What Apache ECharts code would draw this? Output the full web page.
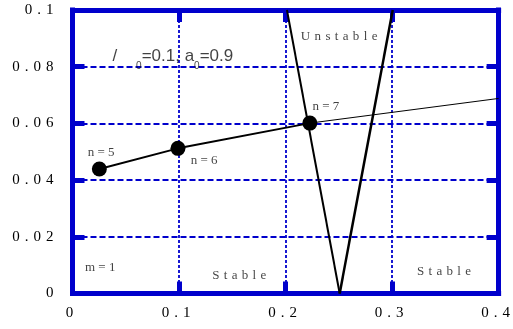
<!DOCTYPE html>
<html>
<head>
<meta charset="utf-8">
<script src="https://cdn.jsdelivr.net/npm/echarts@6/dist/echarts.min.js"></script>
<style>
  html, body { margin: 0; padding: 0; background: #fff; }
  #chart { width: 513px; height: 329px; }
</style>
</head>
<body>
<div id="chart"></div>
<script>
// Axis tick labels
const xTickLabels = ['0', '0.1', '0.2', '0.3', '0.4'];
const yTickLabels = ['0', '0.02', '0.04', '0.06', '0.08', '0.1'];

// Trajectory through n = 5, 6, 7
const pathX = [0.0252, 0.099, 0.2228];
const pathY = [0.0439, 0.0512, 0.0601];

// Continuation of the trajectory past n = 7
const tailX = [0.2228, 0.4];
const tailY = [0.0601, 0.0688];

// Stability boundaries (V shape)
const leftBoundX = [0.2013, 0.2508];
const leftBoundY = [0.1, 0];
const rightBoundX = [0.2508, 0.3006];
const rightBoundY = [0, 0.1];

// Text annotations: [x, y, text]
const notes = [
  [0.0269, 0.0497, 'n=5'],
  [0.1236, 0.0469, 'n=6'],
  [0.2379, 0.0661, 'n=7'],
  [0.2503, 0.0905, 'Unstable'],
  [0.1565, 0.0064, 'Stable'],
  [0.3487, 0.0076, 'Stable'],
  [0.0260, 0.0090, 'm=1']
];
const paramNote = [0.0942, 0.0836];

const BLUE = '#0000cc';
const INK = '#000';
const SERIF = '"Liberation Serif", "DejaVu Serif", serif';
const SANS = '"Liberation Sans", Arial, sans-serif';

function spread(text, gap) {
  return Array.from(text).join(gap);
}
function pairs(xs, ys) {
  return xs.map((x, i) => [x, ys[i]]);
}

const wideNotes = { 'Unstable': true, 'Stable': true };

// Thick frame edge, kept on its own side of the grid
function frameLine() {
  return { show: true, onZero: false, lineStyle: { color: BLUE, width: 5, cap: 'square' } };
}
// Short thick stubs pointing into the plot area
function innerTick() {
  return { show: true, inside: true, length: 12, lineStyle: { color: BLUE, width: 5 } };
}

const chart = echarts.init(document.getElementById('chart'), null, { renderer: 'canvas' });

chart.setOption({
  backgroundColor: '#fff',
  animation: false,
  grid: { left: 72.5, right: 12.5, top: 10, bottom: 35.5, containLabel: false },
  xAxis: [
    {
      type: 'value', min: 0, max: 0.4, interval: 0.1, position: 'bottom',
      axisLine: frameLine(), axisTick: innerTick(),
      axisLabel: {
        margin: 12, color: INK, fontFamily: SERIF, fontSize: 15, padding: [0, 6, 0, 0],
        formatter: (v, i) => spread(xTickLabels[i], ' \u200a')
      },
      splitLine: { show: true, lineStyle: { color: BLUE, width: 1.8, type: [3, 2] } }
    },
    {
      type: 'value', min: 0, max: 0.4, interval: 0.1, position: 'top',
      axisLine: frameLine(), axisTick: innerTick(),
      axisLabel: { show: false }, splitLine: { show: false }
    }
  ],
  yAxis: [
    {
      type: 'value', min: 0, max: 0.1, interval: 0.02, position: 'left',
      axisLine: frameLine(), axisTick: innerTick(),
      axisLabel: {
        margin: 19, color: INK, fontFamily: SERIF, fontSize: 15,
        formatter: (v, i) => spread(yTickLabels[i], ' \u200a')
      },
      splitLine: { show: true, lineStyle: { color: BLUE, width: 1.8, type: [6, 3] } }
    },
    {
      type: 'value', min: 0, max: 0.1, interval: 0.02, position: 'right',
      axisLine: frameLine(), axisTick: innerTick(),
      axisLabel: { show: false }, splitLine: { show: false }
    }
  ],
  series: [
    {
      type: 'line', data: pairs(leftBoundX, leftBoundY), symbol: 'none',
      lineStyle: { color: '#000', width: 2 }, z: 3
    },
    {
      type: 'line', data: pairs(rightBoundX, rightBoundY), symbol: 'none',
      lineStyle: { color: '#000', width: 2.5 }, z: 3
    },
    {
      type: 'line', data: pairs(tailX, tailY), symbol: 'none',
      lineStyle: { color: '#000', width: 1 }, z: 3
    },
    {
      type: 'line', data: pairs(pathX, pathY), symbol: 'circle', symbolSize: 15,
      itemStyle: { color: '#000' }, lineStyle: { color: '#000', width: 2 }, z: 4
    },
    {
      type: 'scatter', symbolSize: 0, silent: true, z: 5,
      data: notes.map(n => ({ value: [n[0], n[1]], name: n[2] })),
      label: {
        show: true, position: 'inside', color: '#111', fontFamily: SERIF, fontSize: 13,
        formatter: p => wideNotes[p.name] ? spread(p.name, ' \u200a') : spread(p.name, ' ')
      }
    },
    {
      type: 'scatter', symbolSize: 0, silent: true, z: 5,
      data: [{ value: paramNote, name: 'param' }],
      label: {
        show: true, position: 'inside',
        formatter: '{m|/    }{s|0}{m|=0.1, a}{s|0}{m|=0.9}',
        rich: {
          m: { fontFamily: SANS, fontSize: 17, color: '#111', lineHeight: 30, verticalAlign: 'middle' },
          s: { fontFamily: SANS, fontSize: 10, color: '#111', lineHeight: 10, verticalAlign: 'bottom' }
        }
      }
    }
  ]
});
</script>
</body>
</html>
